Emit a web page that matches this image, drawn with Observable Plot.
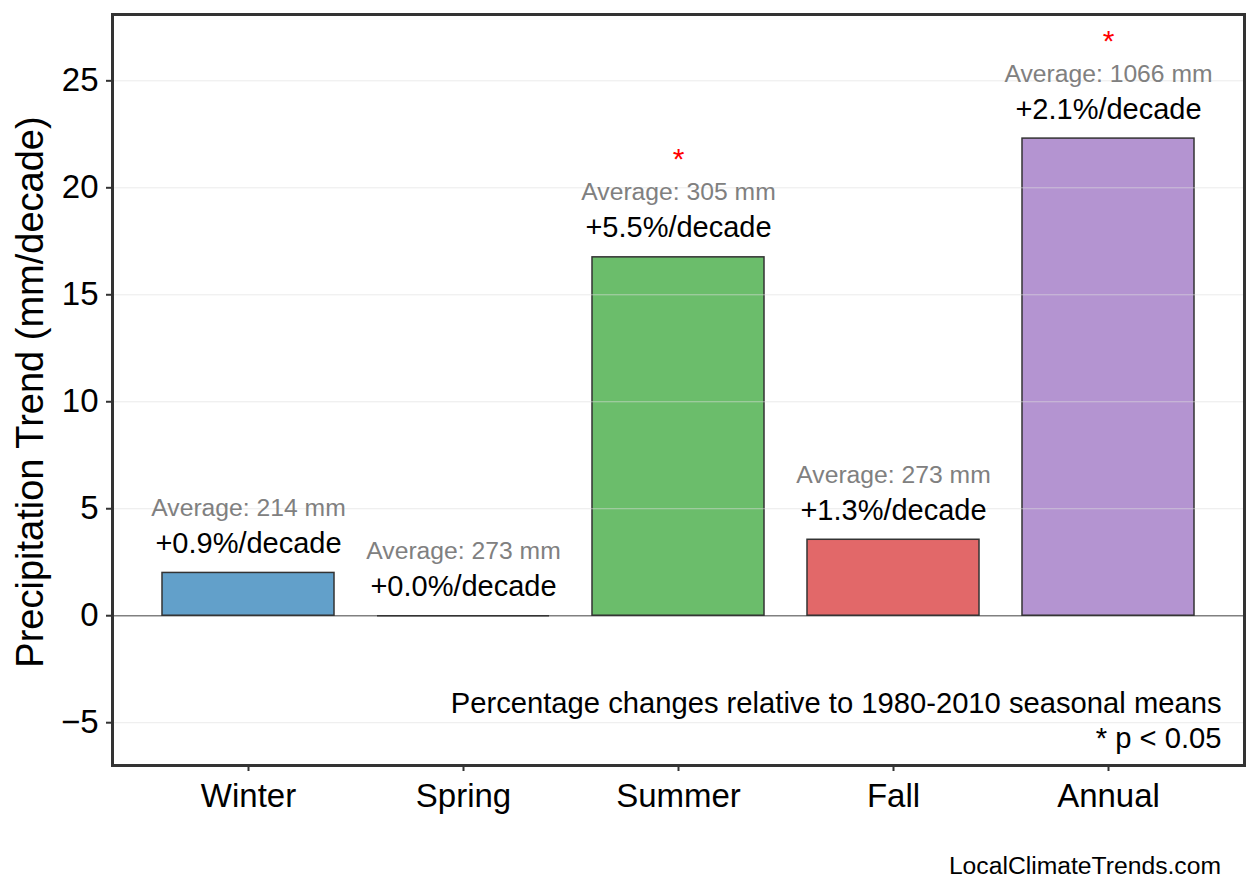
<!DOCTYPE html>
<html>
<head>
<meta charset="utf-8">
<script src="https://cdn.jsdelivr.net/npm/d3@7"></script>
<script src="https://cdn.jsdelivr.net/npm/@observablehq/plot@0.6"></script>
<style>
  html, body { margin: 0; padding: 0; background: #fff; }
  body { font-family: "Liberation Sans", Arial, Helvetica, sans-serif; width: 1258px; }
  #footer { height: 53px; box-sizing: border-box; padding-top: 14px; padding-right: 37px; text-align: right; font-size: 24.7px; line-height: 1; color: #000; }
</style>
</head>
<body>
<div id="chart"></div>
<div id="footer"></div>
<script>
const seasons = ["Winter", "Spring", "Summer", "Fall", "Annual"];
const trends = [2.0, 0.0, 16.75, 3.55, 22.3];
const pctChanges = [0.9, 0.0, 5.5, 1.3, 2.1];
const averages = [214, 273, 305, 273, 1066];
const significant = [false, false, true, false, true];
const barColors = ["#62a0ca", "#ffa556", "#6bbd6b", "#e26869", "#b494d1"];
const yTicks = [-5, 0, 5, 10, 15, 20, 25];
const yDomain = [-7.0, 28.1];
const yLabel = "Precipitation Trend (mm/decade)";
const noteLines = ["Percentage changes relative to 1980-2010 seasonal means", "* p < 0.05"];
const footerText = "LocalClimateTrends.com";

const data = seasons.map((s, i) => ({
  season: s,
  trend: trends[i],
  pct: "+" + pctChanges[i].toFixed(1) + "%/decade",
  avg: "Average: " + averages[i] + " mm",
  sig: significant[i],
  color: barColors[i]
}));

const font = '"Liberation Sans", Arial, Helvetica, sans-serif';

const chart = Plot.plot({
  width: 1258,
  height: 840,
  marginLeft: 112,
  marginRight: 14,
  marginTop: 14,
  marginBottom: 75,
  style: { fontFamily: font, background: "#fff", color: "#000" },
  x: { type: "band", domain: seasons, paddingInner: 0.2, paddingOuter: 0.23, label: null },
  y: { domain: yDomain, label: null },
  color: { type: "identity" },
  marks: [
    Plot.ruleY([0], { stroke: "#808080", strokeWidth: 1.5 }),
    Plot.barY(data, { x: "season", y: "trend", fill: "color", stroke: "#333", strokeWidth: 1.5 }),
    Plot.tickY(data.filter(d => d.trend === 0), { x: "season", y: "trend", stroke: "#333", strokeWidth: 1.5 }),
    Plot.gridY(yTicks.filter(t => t !== 0), { stroke: "#ddd", strokeOpacity: 0.6, strokeWidth: 1 }),
    Plot.text(data, { x: "season", y: "trend", text: "pct", dy: -20, lineAnchor: "bottom", fontSize: 29, fill: "#000" }),
    Plot.text(data, { x: "season", y: "trend", text: "avg", dy: -57, lineAnchor: "bottom", fontSize: 24.7, fill: "#808080" }),
    Plot.text(data.filter(d => d.sig), { x: "season", y: "trend", text: () => "*", dy: -88, lineAnchor: "bottom", fontSize: 30, fill: "red" }),
    Plot.text([noteLines.join("\n")], { text: d => d, frameAnchor: "bottom-right", textAnchor: "end", lineAnchor: "bottom", dx: -23, dy: -18, fontSize: 29.2, lineHeight: 1.17, fill: "#000" }),
    Plot.text([yLabel], { text: d => d, frameAnchor: "left", rotate: -90, dx: -70, dy: 2, textAnchor: "middle", lineAnchor: "bottom", fontSize: 38, fill: "#000" }),
    Plot.axisY({ ticks: yTicks, tickSize: 6, tickPadding: 8, fontSize: 33, label: null, stroke: "#333", strokeWidth: 2, fill: "#000", tickFormat: d => d < 0 ? "\u2212" + Math.abs(d) : String(d) }),
    Plot.axisX({ tickSize: 6, tickPadding: 12, fontSize: 33, label: null, stroke: "#333", strokeWidth: 2, fill: "#000" }),
    Plot.frame({ stroke: "#333", strokeWidth: 3 })
  ]
});

document.getElementById("chart").appendChild(chart);
document.getElementById("footer").textContent = footerText;
</script>
</body>
</html>
